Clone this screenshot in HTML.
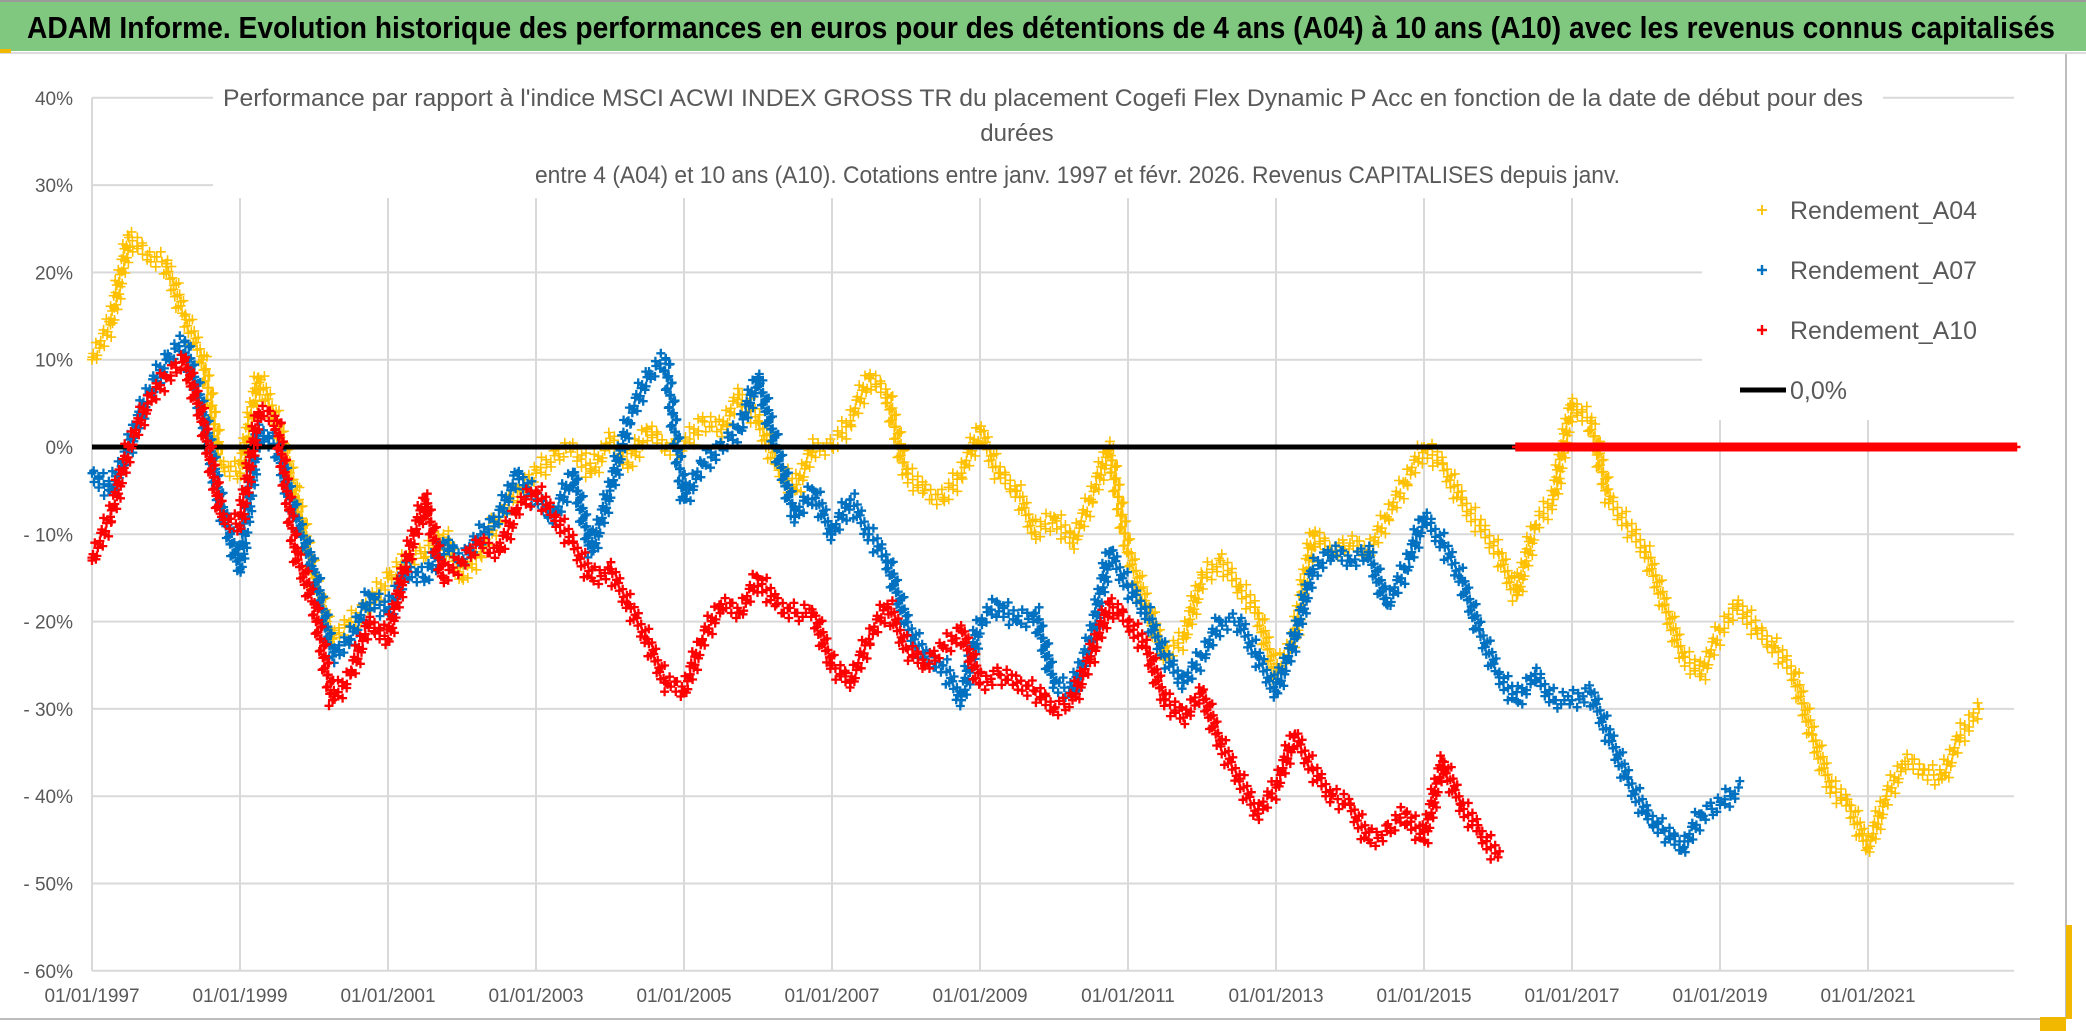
<!DOCTYPE html>
<html><head><meta charset="utf-8">
<style>
html,body{margin:0;padding:0;background:#fff;}
svg{display:block;font-family:"Liberation Sans Narrow","Liberation Sans",sans-serif;}
</style></head>
<body>
<svg id="chart" width="2086" height="1031" viewBox="0 0 2086 1031" xmlns="http://www.w3.org/2000/svg">
  <rect x="0" y="0" width="2086" height="1031" fill="#ffffff"/>
  <rect x="0" y="0" width="2086" height="51" fill="#80c87f"/>
  <line x1="0" y1="1" x2="2086" y2="1" stroke="#9a9a9a" stroke-width="2"/>
  <line x1="0" y1="53" x2="2086" y2="53" stroke="#dcdcdc" stroke-width="2"/>
  <rect x="0" y="49" width="11" height="4" fill="#f2b800"/>
  <text x="27" y="38" font-size="31" font-weight="bold" fill="#000" textLength="2028" lengthAdjust="spacingAndGlyphs">ADAM Informe. Evolution historique des performances en euros pour des détentions de 4 ans (A04) à 10 ans (A10) avec les revenus connus capitalisés</text>
  <line x1="2066" y1="54" x2="2066" y2="1019" stroke="#bdbdbd" stroke-width="2"/>
  <line x1="0" y1="1019" x2="2066" y2="1019" stroke="#bdbdbd" stroke-width="2"/>
  <rect x="2040" y="1017" width="26" height="14" fill="#f2b800"/>
  <rect x="2066" y="925" width="6" height="94" fill="#f2b800"/>
  <g id="grid"></g>
  <g id="yaxis"></g>
  <g id="xaxis"></g>
  <g id="series"></g>
  <rect x="213" y="70" width="1670" height="128" fill="#fff"/>
  <g fill="#595959" font-size="24">
    <text x="223" y="106" textLength="1640" lengthAdjust="spacingAndGlyphs">Performance  par rapport à l'indice MSCI ACWI INDEX GROSS TR  du placement Cogefi Flex Dynamic P Acc en fonction de la date de début pour des</text>
    <text x="1017" y="141" text-anchor="middle">durées</text>
    <text x="535" y="183" textLength="1085" lengthAdjust="spacingAndGlyphs">entre 4 (A04) et 10 ans (A10). Cotations entre janv. 1997 et févr. 2026. Revenus CAPITALISES depuis janv.</text>
  </g>
  <rect x="1702" y="150" width="330" height="270" fill="#fff"/>
  <g font-size="25" fill="#595959">
    <g>
      <path d="M1757 210 h10 M1762 205 v10" stroke="#ffc000" stroke-width="1.8"/>
      <text x="1790" y="219" textLength="187" lengthAdjust="spacingAndGlyphs">Rendement_A04</text>
    </g>
    <g>
      <path d="M1757 270 h10 M1762 265 v10" stroke="#0070c0" stroke-width="2.4"/>
      <text x="1790" y="279" textLength="187" lengthAdjust="spacingAndGlyphs">Rendement_A07</text>
    </g>
    <g>
      <path d="M1757 330 h10 M1762 325 v10" stroke="#ff0000" stroke-width="2.4"/>
      <text x="1790" y="339" textLength="187" lengthAdjust="spacingAndGlyphs">Rendement_A10</text>
    </g>
    <g>
      <line x1="1740" y1="390" x2="1786" y2="390" stroke="#000" stroke-width="5"/>
      <text x="1790" y="399">0,0%</text>
    </g>
  </g>
</svg>
<script>
// ---- data ----
const startYear = 1997;
const stepYears = 0.25;
const yTicks = [40, 30, 20, 10, 0, -10, -20, -30, -40, -50, -60];
const yTickLabels = ["40%","30%","20%","10%","0%","- 10%","- 20%","- 30%","- 40%","- 50%","- 60%"];
const xTicks = [1997,1999,2001,2003,2005,2007,2009,2011,2013,2015,2017,2019,2021];
const xTickLabels = ["01/01/1997","01/01/1999","01/01/2001","01/01/2003","01/01/2005","01/01/2007","01/01/2009","01/01/2011","01/01/2013","01/01/2015","01/01/2017","01/01/2019","01/01/2021"];
const a04 = [10,14,24,22,21,15,10,-2,-3,8,3,-5,-15,-22,-20,-18,-15,-13,-12,-10,-15,-12,-8,-5,-3,-1,0,-3,1,-2,2,0,0,3,2,6,3,-2,-5,0,0,3,8,6,-3,-5,-6,-3,2,-3,-5,-10,-8,-11,-6,0,-12,-18,-24,-22,-15,-13,-16,-19,-26,-22,-10,-12,-11,-12,-8,-4,0,-2,-6,-9,-12,-17,-9,-6,5,3,-6,-9,-12,-18,-24,-26,-21,-18,-21,-23,-26,-33,-39,-41,-46,-40,-36,-37,-38,-33,-30];
const a07 = [-3,-5,0,6,10,12,4,-7,-14,2,0,-8,-14,-24,-22,-17,-19,-14,-15,-11,-13,-10,-8,-3,-6,-8,-3,-12,-5,3,8,10,-6,-2,0,2,8,0,-8,-5,-10,-6,-10,-13,-20,-24,-25,-29,-20,-18,-20,-19,-27,-28,-22,-12,-16,-19,-24,-27,-24,-20,-20,-24,-28,-22,-14,-12,-13,-12,-18,-14,-8,-11,-15,-21,-26,-29,-26,-29,-29,-28,-33,-38,-42,-44,-46,-42,-41,-39];
const a10 = [-13,-8,0,5,8,10,3,-8,-9,4,3,-12,-18,-29,-26,-20,-22,-13,-6,-15,-13,-11,-12,-7,-5,-8,-11,-15,-14,-18,-22,-27,-28,-22,-18,-19,-15,-18,-19,-19,-25,-27,-22,-18,-23,-25,-23,-21,-27,-26,-27,-28,-30,-29,-24,-18,-20,-23,-29,-31,-28,-34,-38,-42,-39,-33,-37,-40,-41,-45,-44,-42,-45,-36,-41,-44,-47,0,0,0,0,0,0,0,0,0,0,0,0,0,0,0,0,0,0,0,0,0,0,0,0,0,0,0,0];

// ---- scales ----
const X0 = 92, PX_PER_YEAR = 74, Y0 = 447, PX_PER_PCT = 8.73;
const xScale = yr => X0 + (yr - 1997) * PX_PER_YEAR;
const yScale = v => Y0 - v * PX_PER_PCT;
const plotRight = 2014, plotTop = yScale(40), plotBottom = yScale(-60);
const NS = "http://www.w3.org/2000/svg";
function mk(tag, attrs, parent){const e=document.createElementNS(NS,tag);for(const k in attrs)e.setAttribute(k,attrs[k]);parent.appendChild(e);return e;}

const grid = document.getElementById('grid');
yTicks.forEach((t,i)=>{
  const gl = mk('line',{x1:X0,x2:plotRight,y1:yScale(t),y2:yScale(t),stroke:'#d9d9d9','stroke-width':2},grid);
  
  
  const lb = mk('text',{x:73,y:yScale(t)+7,'text-anchor':'end','font-size':19,fill:'#595959'},document.getElementById('yaxis'));
  lb.textContent = yTickLabels[i];
  
  
});
mk('line',{x1:X0,x2:X0,y1:plotTop,y2:plotBottom,stroke:'#d9d9d9','stroke-width':2},grid);
xTicks.forEach((t,i)=>{
  if(i>0){
    const vl = mk('line',{x1:xScale(t),x2:xScale(t),y1:plotTop,y2:plotBottom,stroke:'#d9d9d9','stroke-width':2},grid);
    
    
  }
  const lb = mk('text',{x:xScale(t),y:1002,'text-anchor':'middle','font-size':19,fill:'#595959'},document.getElementById('xaxis'));
  lb.textContent = xTickLabels[i];
  
  
});

// ---- series ----
const layer = document.getElementById('series');
function seriesPath(vals, sz, zeroTail){
  let d = "", k = 0;
  const plus = (x,y)=>{ d += `M${(x-sz).toFixed(1)} ${y.toFixed(1)}h${2*sz}M${x.toFixed(1)} ${(y-sz).toFixed(1)}v${2*sz}`; };
  let tailStart = vals.length;
  if(zeroTail !== null){ while(tailStart>0 && vals[tailStart-1]===0) tailStart--; }
  for(let i=0;i<vals.length;i++){
    const inTail = i>=tailStart;
    if(zeroTail === true && !inTail) continue;
    if(zeroTail === false && inTail) continue;
    const x = xScale(startYear + i*stepYears), y = yScale(vals[i]);
    plus(x,y);
    const nextOk = i+1<vals.length && (zeroTail===true ? true : (i+1<tailStart));
    if(nextOk && Math.abs(vals[i+1]-vals[i])<20){
      const x2 = xScale(startYear + (i+1)*stepYears), y2 = yScale(vals[i+1]);
      const n = Math.max(4, Math.ceil(Math.hypot(x2-x,y2-y)/2.5));
      for(let j=1;j<n;j++){
        k++;
        const off = inTail ? 0 : ((k%5)-2)*4;
        const offx = inTail ? 0 : ((k%3)-1)*3;
        plus(x+(x2-x)*j/n+offx, y+(y2-y)*j/n+off);
      }
    }
  }
  return d;
}
const pA04 = mk('path',{d:seriesPath(a04,5,null),stroke:'#ffc000','stroke-width':1.6,fill:'none'},layer);


const pA07 = mk('path',{d:seriesPath(a07,4.5,null),stroke:'#0070c0','stroke-width':2.3,fill:'none'},layer);


const zeroLine = mk('line',{x1:X0,x2:xScale(startYear+(a10.length-1)*stepYears),y1:yScale(0),y2:yScale(0),stroke:'#000','stroke-width':5},layer);


const pA10 = mk('path',{d:seriesPath(a10,4.5,false),stroke:'#ff0000','stroke-width':2.3,fill:'none'},layer);


const pA10z = mk('path',{d:seriesPath(a10,4.5,true),stroke:'#ff0000','stroke-width':2.5,fill:'none'},layer);


</script>
</body></html>
